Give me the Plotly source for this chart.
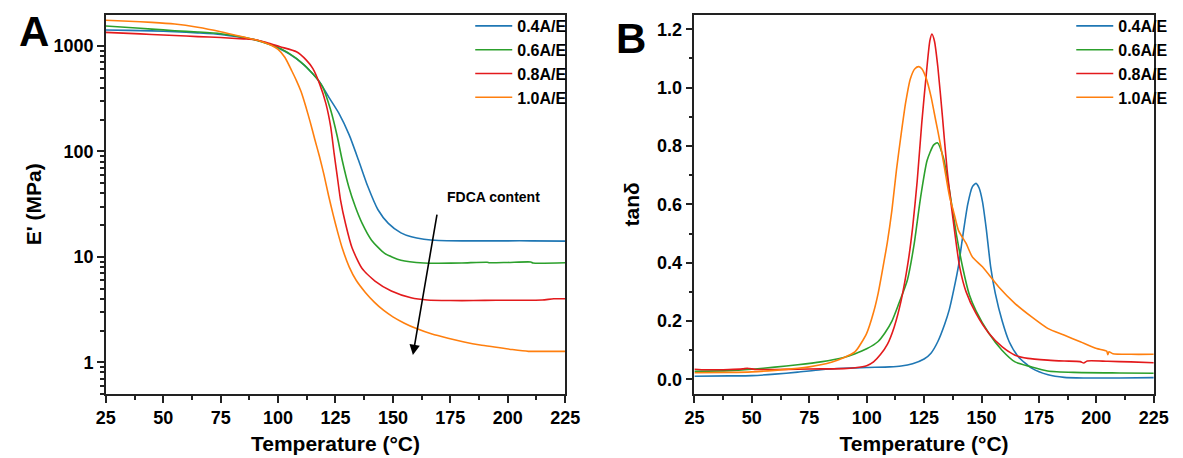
import numpy as np
import plotly.graph_objects as go

# ---------------- data ----------------
series_names = ["0.4A/E", "0.6A/E", "0.8A/E", "1.0A/E"]
colors = ["#1f77b4", "#2ca02c", "#e31a1c", "#ff7f0e"]

# Panel A: storage modulus E' (MPa) vs temperature (°C)
tA_04 = [25, 35, 45, 55, 65, 75, 85, 90, 95, 100, 105, 110, 115, 118, 122, 126.5, 131, 135, 139, 143.5,
         148, 153.5, 158, 163.5, 170, 180, 190, 200, 210, 225]
eA_04 = [1420, 1410, 1395, 1370, 1335, 1290, 1200, 1150, 1070, 960, 840, 700, 550, 460, 330, 230, 143, 83, 47, 28,
         20.8, 16.9, 15.5, 14.7, 14.3, 14.2, 14.2, 14.2, 14.2, 14.1]

tA_06 = [25, 35, 45, 55, 65, 75, 85, 90, 95, 101, 108, 115, 119.4, 122.9, 125.8, 127.9, 130.8, 133.6, 136.5,
         140.7, 146.4, 153.5, 163.5, 170, 180, 191, 192, 200, 210, 211, 225]
eA_06 = [1550, 1500, 1450, 1400, 1360, 1310, 1210, 1140, 1060, 950, 764, 550, 411, 247, 138, 83, 46, 30, 21,
         14.4, 10.8, 9.3, 8.75, 8.7, 8.75, 8.9, 8.8, 8.85, 8.95, 8.75, 8.8]

tA_08 = [25, 35, 45, 55, 65, 75, 85, 90, 95, 100.9, 108, 112.3, 115.1, 118, 120.8, 122.9, 124.4, 125.8, 127.2,
         129.4, 132.2, 136.5, 142.2, 149.3, 157.9, 165, 175, 185, 195, 205, 215, 220, 225]
eA_08 = [1350, 1320, 1290, 1260, 1230, 1205, 1170, 1150, 1080, 985, 883, 736, 614, 443, 286, 172, 96, 57.5, 34.6,
         20.5, 12.2, 7.8, 5.9, 4.75, 4.1, 3.9, 3.85, 3.85, 3.88, 3.88, 3.9, 4.0, 4.0]

tA_10 = [25, 35, 45, 55, 65, 75, 85, 92, 97, 100, 103, 106, 108, 110, 112, 114, 116, 118, 120, 122, 124, 126,
         128, 131, 134, 138, 142, 146, 150, 155, 160, 167, 174, 181, 188, 195, 202, 209, 215, 225]
eA_10 = [1760, 1720, 1680, 1620, 1510, 1370, 1220, 1120, 1020, 930, 780, 580, 470, 370, 270, 190, 130, 90, 60,
         38, 25, 17, 12, 8, 6, 4.6, 3.7, 3.1, 2.7, 2.35, 2.1, 1.85, 1.69, 1.56, 1.46, 1.39, 1.32, 1.27, 1.27, 1.27]

# Panel B: tan delta vs temperature (°C)
tB_04 = [25, 40, 50, 60, 70, 80, 90, 100, 110, 115, 120, 125, 128, 131, 134, 136, 138, 140, 142, 144, 146,
         147.6, 149, 150.4, 152, 154, 156, 159, 162, 166, 172, 179, 186, 195, 210, 225]
vB_04 = [0.011, 0.012, 0.013, 0.018, 0.025, 0.033, 0.038, 0.041, 0.043, 0.046, 0.054, 0.07, 0.09, 0.13, 0.19,
         0.24, 0.31, 0.39, 0.5, 0.6, 0.66, 0.672, 0.655, 0.61, 0.52, 0.385, 0.295, 0.2, 0.13, 0.078, 0.038,
         0.016, 0.007, 0.005, 0.005, 0.006]

tB_06 = [25, 40, 50, 60, 70, 80, 90, 95, 100, 105, 108, 111, 114, 117.7, 120.6, 123.4, 126.3, 129.1, 130.8,
         133.4, 136.2, 139, 141.9, 144.7, 147.6, 153.2, 158.9, 164.6, 171.7, 178.8, 190, 210, 225]
vB_06 = [0.028, 0.03, 0.035, 0.042, 0.05, 0.06, 0.075, 0.088, 0.105, 0.13, 0.16, 0.2, 0.26, 0.34, 0.46, 0.62,
         0.75, 0.803, 0.811, 0.76, 0.64, 0.5, 0.38, 0.29, 0.235, 0.158, 0.1, 0.06, 0.043, 0.029, 0.024, 0.022,
         0.021]

tB_08 = [25, 30, 40, 46, 48, 52, 60, 70, 80, 90, 95, 100, 103, 106, 109, 112, 115, 118, 120, 122, 124, 126,
         127.5, 128.4, 129.5, 131, 133, 135, 137.6, 140.5, 143.3, 147.6, 153.2, 158.9, 164.6, 170.2, 178.8,
         186, 193, 194.5, 196, 205, 215, 225]
vB_08 = [0.035, 0.033, 0.034, 0.036, 0.038, 0.034, 0.034, 0.035, 0.036, 0.037, 0.04, 0.047, 0.06, 0.085, 0.12,
         0.18, 0.27, 0.40, 0.52, 0.68, 0.88, 1.05, 1.16, 1.184, 1.16, 1.07, 0.90, 0.72, 0.55, 0.385, 0.30,
         0.226, 0.158, 0.112, 0.083, 0.072, 0.066, 0.063, 0.061, 0.056, 0.063, 0.062, 0.060, 0.057]

tB_10 = [25, 40, 50, 60, 70, 75, 80, 85, 90, 95, 100, 103, 105, 107, 109, 111, 113, 115, 117, 119, 121, 122.7,
         124, 126, 128, 130, 132, 134, 136, 138, 140, 143.3, 146, 150.4, 157.5, 164.6, 171.7, 178.8, 185.9,
         193, 200.1, 204.5, 205, 205.5, 207.2, 215, 225]
vB_10 = [0.023, 0.024, 0.026, 0.031, 0.038, 0.043, 0.05, 0.06, 0.074, 0.095, 0.158, 0.23, 0.295, 0.38, 0.47,
         0.58, 0.72, 0.84, 0.95, 1.03, 1.065, 1.072, 1.065, 1.03, 0.97, 0.89, 0.81, 0.72, 0.63, 0.57, 0.51,
         0.466, 0.42, 0.386, 0.317, 0.26, 0.215, 0.175, 0.152, 0.129, 0.106, 0.097, 0.085, 0.095, 0.088,
         0.086, 0.086]

x_ticks = [25, 50, 75, 100, 125, 150, 175, 200, 225]
yA_ticks = [1, 10, 100, 1000]
yA_ticktext = ["1", "10", "100", "1000"]
yA_minor = [0.5, 0.6, 0.7, 0.8, 0.9] + [m * d for d in (1, 10, 100) for m in range(2, 10)] + [2000]
yB_ticks = [0.0, 0.2, 0.4, 0.6, 0.8, 1.0, 1.2]

arrow_tail = (169.3, 26.0)   # (°C, MPa)
arrow_head = (158.7, 1.17)
arrow_label = "FDCA content"
arrow_label_pos = (193.8, 37.2)

panel_A = list(zip(series_names, colors, [tA_04, tA_06, tA_08, tA_10], [eA_04, eA_06, eA_08, eA_10]))
panel_B = list(zip(series_names, colors, [tB_04, tB_06, tB_08, tB_10], [vB_04, vB_06, vB_08, vB_10]))

# ---------------- figure ----------------
W, H = 1183, 458
OFF = 8.0  # page body margin offset (px)
FONT = "Liberation Sans, Arial, Helvetica, sans-serif"


def px(x):
    return (x - OFF) / W


def py(y):
    return 1 - (y - OFF) / H


fig = go.Figure()
for name, c, t, e in panel_A:
    fig.add_trace(go.Scatter(x=t, y=e, mode="lines", name=name,
                             line=dict(color=c, width=1.6, shape="spline", smoothing=0.6),
                             xaxis="x", yaxis="y", legend="legend"))
for name, c, t, v in panel_B:
    fig.add_trace(go.Scatter(x=t, y=v, mode="lines", name=name,
                             line=dict(color=c, width=1.6, shape="spline", smoothing=0.6),
                             xaxis="x2", yaxis="y2", legend="legend2"))

dxA = [px(97.7), px(567.0)]
dxB = [px(699.0), px(1168.3)]
dy = [py(394.0), py(14.7)]

tickfont = dict(family=FONT, size=18, color="black", weight="bold")
titlefont = dict(family=FONT, size=21, color="black", weight="bold")

common_x = dict(range=[25, 225], tickvals=x_ticks, ticks="outside", ticklen=7, tickwidth=1.5,
                tickcolor="#222", showline=True, linecolor="#222", linewidth=1.5, mirror=True,
                showgrid=False, zeroline=False, tickfont=tickfont,
                minor=dict(ticks="outside", ticklen=4, tickwidth=1.5, tickcolor="#222", dtick=12.5,
                           tick0=25, showgrid=False),
                title=dict(text="Temperature (°C)", font=titlefont, standoff=9))

legfont = dict(family=FONT, size=16, color="black", weight="bold")

fig.update_layout(
    width=W, height=H,
    margin=dict(l=0, r=0, t=0, b=0),
    paper_bgcolor="white", plot_bgcolor="white",
    font=dict(family=FONT, color="black"),
    xaxis=dict(domain=dxA, anchor="y", **common_x),
    xaxis2=dict(domain=dxB, anchor="y2", **common_x),
    yaxis=dict(domain=dy, anchor="x", type="log", range=[np.log10(0.5), np.log10(1985)],
               tickvals=yA_ticks, ticktext=yA_ticktext, ticks="outside", ticklen=7, tickwidth=1.5,
               tickcolor="#222", showline=True, linecolor="#222", linewidth=1.5, mirror=True,
               showgrid=False, zeroline=False, tickfont=tickfont,
               minor=dict(ticks="outside", ticklen=4, tickwidth=1.5, tickcolor="#222",
                          tickvals=yA_minor, showgrid=False),
               title=dict(text="E' (MPa)", font=titlefont, standoff=6)),
    yaxis2=dict(domain=dy, anchor="x2", range=[-0.05, 1.25], tickvals=yB_ticks, tickformat=".1f",
                ticks="outside", ticklen=7, tickwidth=1.5, tickcolor="#222", showline=True,
                linecolor="#222", linewidth=1.5, mirror=True, showgrid=False, zeroline=False,
                tickfont=tickfont,
                minor=dict(ticks="outside", ticklen=4, tickwidth=1.5, tickcolor="#222", dtick=0.1,
                           tick0=0, showgrid=False),
                title=dict(text="tanδ", font=titlefont, standoff=12)),
    legend=dict(x=px(470), xanchor="left", y=py(9), yanchor="top",
                bgcolor="rgba(0,0,0,0)", borderwidth=0, itemwidth=37, font=legfont, tracegroupgap=0),
    legend2=dict(x=px(1084), xanchor="left", y=py(9), yanchor="top",
                 bgcolor="rgba(0,0,0,0)", borderwidth=0, itemwidth=37, font=legfont, tracegroupgap=0),
    showlegend=True,
)

# panel letters
fig.add_annotation(x=px(24.5), y=py(31.7), xref="paper", yref="paper", text="A", showarrow=False,
                   font=dict(family=FONT, size=42, color="black", weight="bold"),
                   xanchor="center", yanchor="middle")
fig.add_annotation(x=px(634.5), y=py(38.3), xref="paper", yref="paper", text="B", showarrow=False,
                   font=dict(family=FONT, size=42, color="black", weight="bold"),
                   xanchor="center", yanchor="middle")

# FDCA content arrow (log axis -> annotation coords in log10)
fig.add_annotation(x=arrow_head[0], y=np.log10(arrow_head[1]), xref="x", yref="y",
                   ax=arrow_tail[0], ay=np.log10(arrow_tail[1]), axref="x", ayref="y",
                   showarrow=True, arrowhead=2, arrowsize=1.3, arrowwidth=1.6, arrowcolor="black", text="")
fig.add_annotation(x=arrow_label_pos[0], y=np.log10(arrow_label_pos[1]), xref="x", yref="y",
                   text=arrow_label, showarrow=False,
                   font=dict(family=FONT, size=14, color="black", weight="bold"))

fig.write_html("out.html")
